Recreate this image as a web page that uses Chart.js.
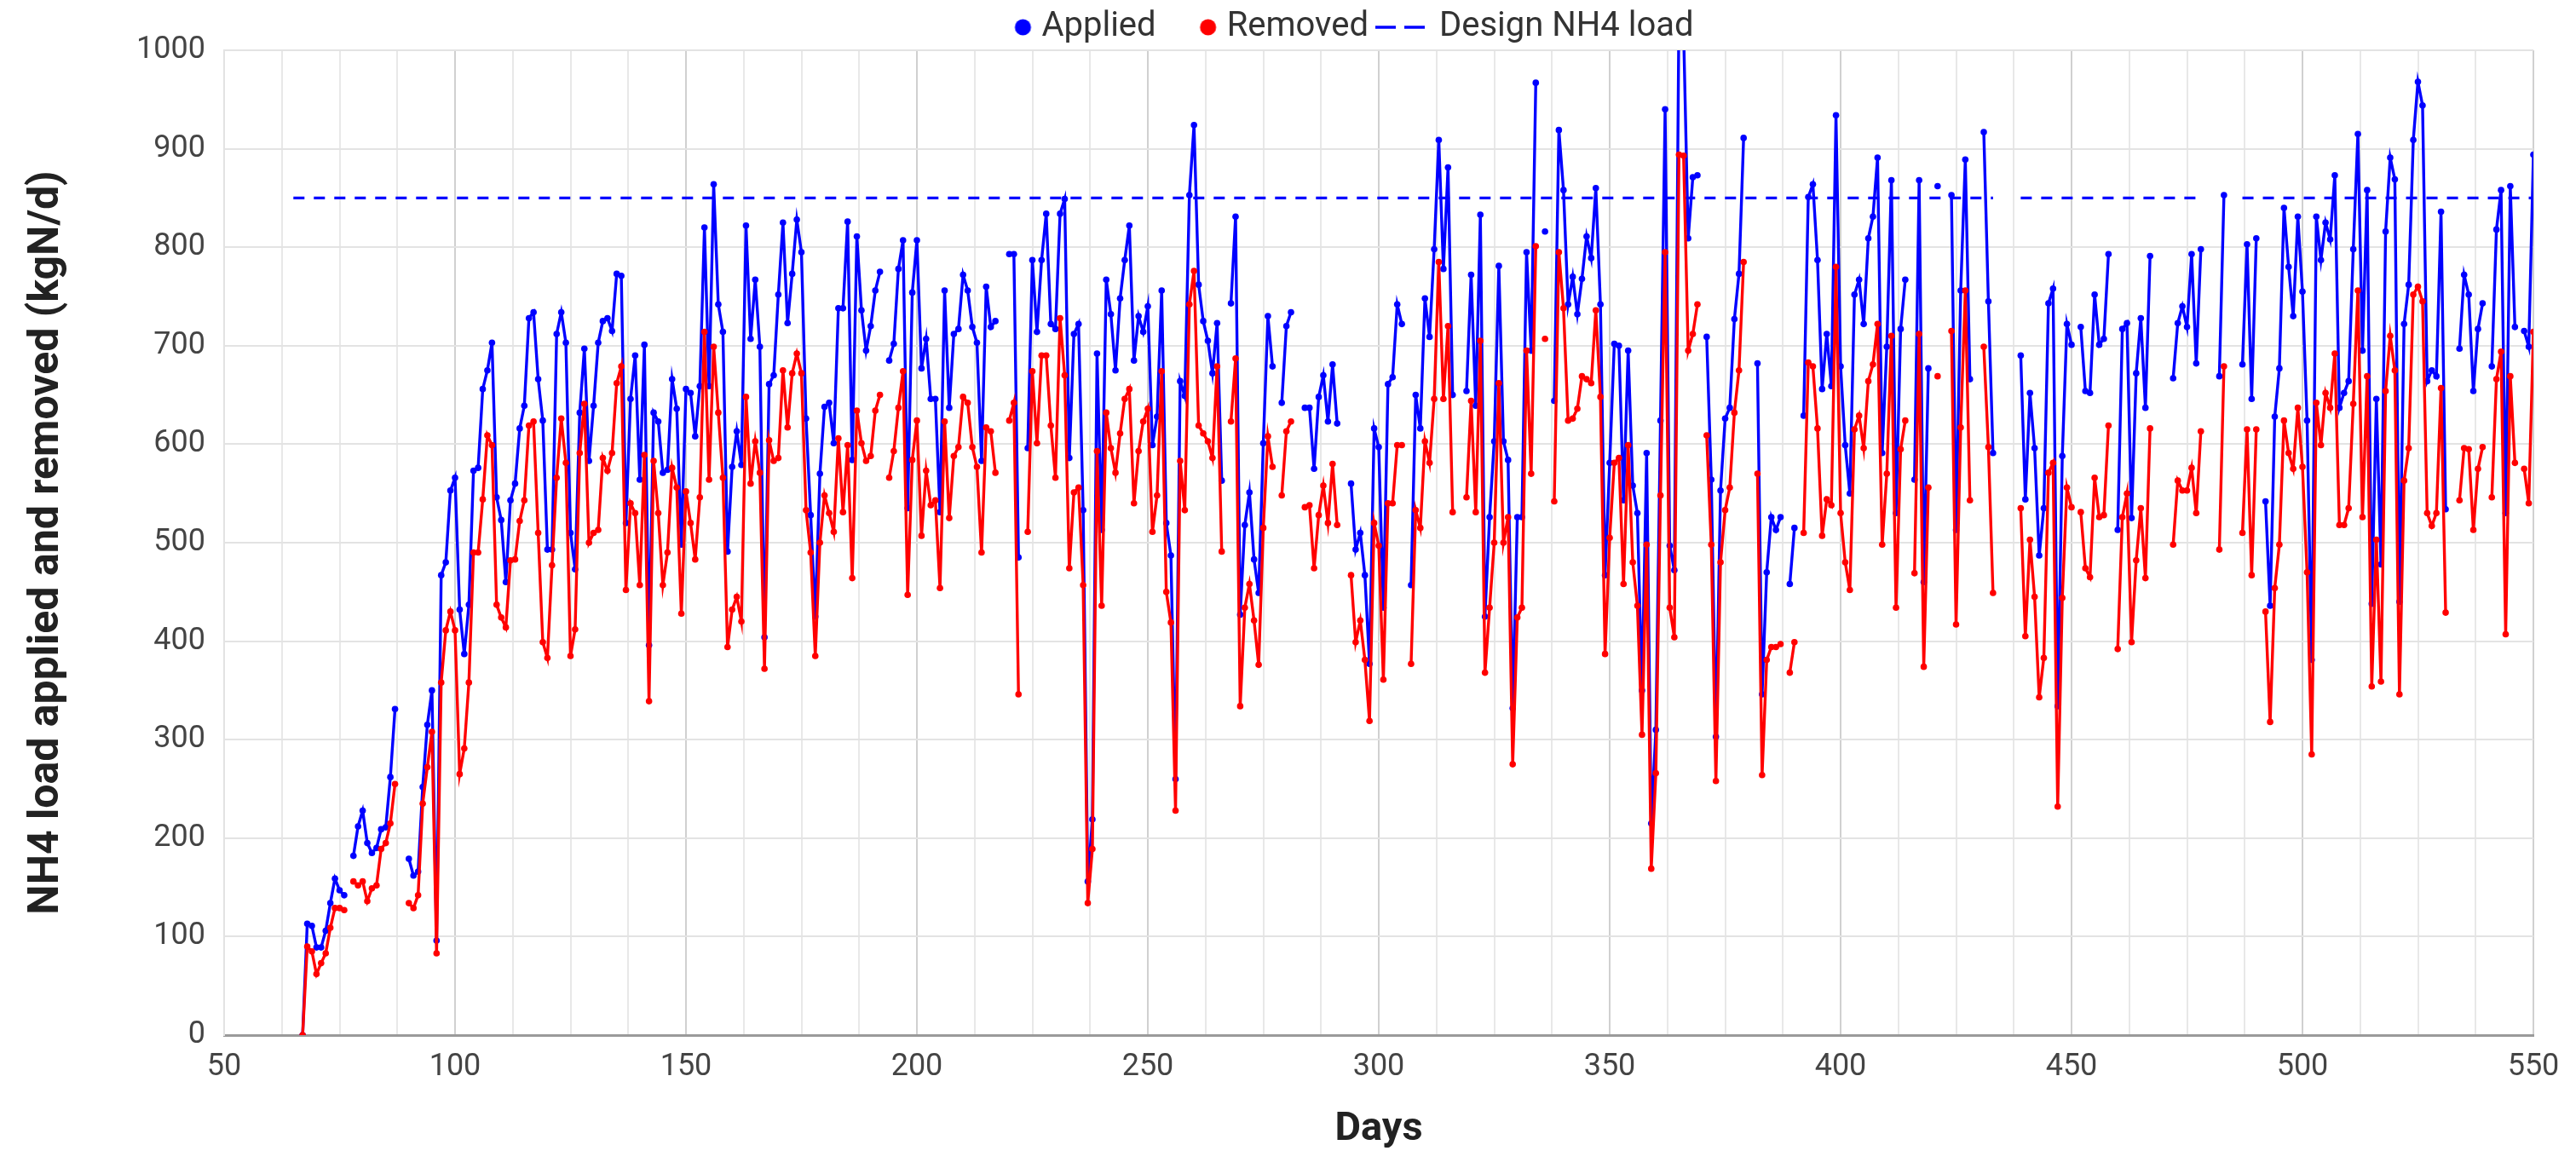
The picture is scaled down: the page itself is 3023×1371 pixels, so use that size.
<!DOCTYPE html>
<html>
<head>
<meta charset="utf-8">
<script src="https://cdn.jsdelivr.net/npm/chart.js@4.4.1/dist/chart.umd.min.js"></script>
<style>
  html, body { margin: 0; padding: 0; background: #ffffff; }
  #wrap { width: 3023px; height: 1371px; position: relative; }
</style>
</head>
<body>
<div id="wrap"><canvas id="c"></canvas></div>
<script>
// ---- DATA (daily, first day = 67, null = no measurement) ----
const firstDay = 67;
const applied = [
  0,113,111,89,89,106,134,159,147,142,
  null,182,212,228,195,185,190,209,211,262,
  331,null,null,179,162,166,252,315,350,96,
  467,480,553,566,432,387,437,573,576,656,
  675,703,546,523,460,543,560,616,639,728,
  734,666,624,493,493,712,734,703,510,473,
  632,697,583,639,703,725,728,715,773,771,
  520,646,690,564,701,396,632,623,571,574,
  666,636,498,656,652,608,659,820,659,864,
  742,714,491,577,613,579,822,707,767,699,
  404,661,670,752,825,723,773,828,795,626,
  528,425,570,638,642,601,738,738,826,584,
  811,736,695,720,756,775,null,685,702,778,
  807,535,754,807,677,707,646,646,531,756,
  637,712,717,772,756,719,703,583,760,719,
  725,null,null,793,793,485,null,596,787,714,
  787,834,722,717,834,849,586,712,722,533,
  156,219,692,513,767,732,675,748,787,822,
  685,730,714,740,599,628,756,520,487,260,
  664,649,853,924,762,725,705,672,723,563,
  null,743,831,427,518,551,483,449,601,730,
  679,null,642,720,734,null,null,637,637,575,
  648,670,623,681,621,null,null,560,493,510,
  467,377,616,597,434,661,668,742,722,null,
  457,650,616,748,709,798,909,778,881,650,
  null,null,654,772,639,833,425,526,603,781,
  603,584,332,526,526,795,695,967,null,816,
  null,644,919,858,742,770,732,768,811,789,
  860,742,467,581,702,700,543,695,558,530,
  350,591,215,310,624,940,497,472,1040,1020,
  809,871,873,null,709,564,303,553,626,637,
  727,773,911,null,null,682,346,470,526,513,
  526,null,458,515,null,629,851,864,787,656,
  712,659,934,679,599,550,752,767,722,809,
  831,891,591,699,868,530,717,767,null,564,
  868,460,677,null,862,null,null,853,513,756,
  889,666,null,null,917,745,591,null,null,null,
  null,null,690,544,652,596,487,535,743,758,
  334,588,722,701,null,719,654,652,752,701,
  707,793,null,513,717,723,525,672,728,637,
  791,null,null,null,null,667,723,740,719,793,
  682,798,null,null,null,669,853,null,null,null,
  681,803,646,809,null,542,436,628,677,840,
  780,730,831,755,624,381,831,787,825,808,
  873,637,652,664,798,915,695,858,438,646,
  478,816,891,869,440,722,762,909,968,944,
  664,675,669,836,534,null,null,697,772,752,
  654,717,743,null,679,818,858,530,862,719,
  null,715,699,894
];
const removed = [
  0,90,85,62,73,83,109,129,129,127,
  null,156,152,156,136,149,152,189,195,215,
  255,null,null,134,129,142,235,272,308,83,
  358,411,430,411,265,291,358,490,490,544,
  609,599,437,424,414,482,483,522,543,619,
  623,510,399,383,477,566,626,581,385,412,
  591,641,500,510,513,586,573,591,662,679,
  452,540,530,457,589,339,583,530,457,490,
  576,556,428,552,520,483,546,714,564,699,
  632,566,394,432,445,420,648,560,603,571,
  372,604,583,586,675,617,672,692,672,533,
  490,385,500,548,530,511,606,531,599,464,
  634,601,583,588,634,650,null,566,593,637,
  674,447,584,624,507,573,538,543,454,623,
  525,588,597,648,642,597,577,490,617,613,
  571,null,null,624,642,346,null,511,674,601,
  690,690,619,566,728,670,474,551,556,457,
  134,189,593,436,632,596,571,611,646,656,
  540,593,623,636,511,548,674,450,419,228,
  583,533,742,776,619,611,603,586,679,491,
  null,623,687,334,434,458,421,376,515,608,
  577,null,548,613,623,null,null,536,538,474,
  528,558,520,580,518,null,null,467,399,421,
  381,319,520,497,361,540,540,599,599,null,
  377,533,515,603,581,646,785,646,720,531,
  null,null,546,644,531,705,368,434,500,662,
  500,526,275,424,434,695,570,801,null,707,
  null,542,795,738,624,626,636,669,666,662,
  736,648,387,505,581,586,458,599,480,436,
  305,498,169,266,548,795,434,404,894,893,
  695,712,742,null,609,498,258,480,533,556,
  632,675,785,null,null,570,264,381,394,394,
  397,null,368,399,null,510,683,679,616,507,
  544,538,780,530,480,452,615,629,596,664,
  681,722,498,570,710,434,595,624,null,469,
  712,374,556,null,669,null,null,715,417,617,
  756,543,null,null,699,597,449,null,null,null,
  null,null,535,405,503,445,343,383,571,581,
  232,444,556,536,null,531,474,465,566,526,
  528,619,null,392,526,550,399,482,535,464,
  616,null,null,null,null,498,563,553,553,576,
  530,613,null,null,null,493,679,null,null,null,
  510,615,467,615,null,430,318,454,498,624,
  591,575,637,577,470,285,642,599,652,637,
  692,518,518,535,641,756,526,669,354,503,
  359,654,710,675,346,563,596,752,760,745,
  530,517,530,657,429,null,null,543,596,595,
  513,575,597,null,546,666,694,407,669,581,
  null,575,540,714
];
const designDays = [65, 433, 433, 439, 478, 478, 487, 550];
const designLoad = [850, 850, null, 850, 850, null, 850, 850];
const xTickLabels = [50, 100, 150, 200, 250, 300, 350, 400, 450, 500, 550];
const yTickLabels = [0, 100, 200, 300, 400, 500, 600, 700, 800, 900, 1000];
const seriesNames = ['Applied', 'Removed', 'Design NH4 load'];
// ---------------------------------------------------------------

const BLUE = '#0000ff';
const RED = '#ff0000';
const FONT = 'Roboto, "Noto Sans", Arial, sans-serif';
const BOXW = 58;

function circleIcon(color) {
  const c = document.createElement('canvas');
  c.width = BOXW + 24; c.height = 24;
  const g = c.getContext('2d');
  g.fillStyle = color;
  g.beginPath(); g.arc(BOXW + 10, 12, 9.5, 0, Math.PI * 2); g.fill();
  return c;
}
function dashIcon(color) {
  const c = document.createElement('canvas');
  c.width = BOXW + 24; c.height = 8;
  const g = c.getContext('2d');
  g.strokeStyle = color; g.lineWidth = 3.5; g.setLineDash([24, 10]);
  g.beginPath(); g.moveTo(15, 4); g.lineTo(73, 4); g.stroke();
  return c;
}
const legendIcons = [circleIcon(BLUE), circleIcon(RED), dashIcon(BLUE)];

const legendShift = {
  id: 'legendShift',
  afterLayout(chart) {
    const l = chart.legend;
    if (l) { l.left -= 52; l.right -= 52; l.top += 3; l.bottom += 3; }
  }
};

const toPts = (arr) => arr.map((v, i) => ({ x: firstDay + i, y: v }));
const designPts = designDays.map((d, i) => ({ x: d, y: designLoad[i] }));

new Chart(document.getElementById('c'), {
  type: 'line',
  plugins: [legendShift],
  data: {
    datasets: [
      { label: seriesNames[0], data: toPts(applied), borderColor: BLUE, backgroundColor: BLUE,
        borderWidth: 3.4, pointRadius: 3.8, pointBorderWidth: 0, pointHoverRadius: 3.8, order: 1, tension: 0 },
      { label: seriesNames[1], data: toPts(removed), borderColor: RED, backgroundColor: RED,
        borderWidth: 3.4, pointRadius: 3.8, pointBorderWidth: 0, pointHoverRadius: 3.8, order: 0, tension: 0 },
      { label: seriesNames[2], data: designPts, borderColor: BLUE, backgroundColor: BLUE,
        borderWidth: 3.4, borderDash: [13, 11], pointRadius: 0, order: 2, tension: 0 }
    ]
  },
  options: {
    responsive: true,
    maintainAspectRatio: false,
    devicePixelRatio: 1,
    animation: false,
    events: [],
    layout: { padding: { top: 4, right: 50, bottom: 0, left: 0 } },
    plugins: {
      tooltip: { enabled: false },
      legend: {
        display: true,
        position: 'top',
        align: 'center',
        fullSize: false,
        labels: {
          usePointStyle: true,
          pointStyleWidth: BOXW,
          padding: 5,
          color: '#333333',
          font: { family: FONT, size: 40 },
          sort: (a, b) => a.datasetIndex - b.datasetIndex,
          generateLabels: (chart) => {
            const items = Chart.defaults.plugins.legend.labels.generateLabels(chart);
            items.forEach(it => { it.pointStyle = legendIcons[it.datasetIndex]; });
            return items;
          }
        }
      }
    },
    scales: {
      x: {
        type: 'linear',
        min: xTickLabels[0],
        max: xTickLabels[xTickLabels.length - 1],
        afterFit: (s) => { s.height = 156; },
        ticks: {
          stepSize: 12.5,
          autoSkip: false,
          maxRotation: 0,
          padding: 16,
          color: '#444444',
          font: { family: FONT, size: 36 },
          callback: (v) => xTickLabels.includes(v) ? String(v) : ''
        },
        grid: {
          drawTicks: false,
          lineWidth: 2,
          color: (ctx) => (ctx.tick && xTickLabels.includes(ctx.tick.value)) ? '#d0d0d0' : '#e8e8e8'
        },
        border: { display: true, color: '#9a9a9a', width: 3 },
        title: {
          display: true,
          text: 'Days',
          color: '#222222',
          font: { family: FONT, size: 47, weight: 'bold' },
          padding: { top: 0, bottom: 17 }
        }
      },
      y: {
        min: yTickLabels[0],
        max: yTickLabels[yTickLabels.length - 1],
        afterFit: (s) => { s.width = 263; },
        ticks: {
          stepSize: 100,
          padding: 22,
          color: '#444444',
          font: { family: FONT, size: 36 },
          callback: (v) => yTickLabels.includes(v) ? String(v) : ''
        },
        grid: { drawTicks: false, lineWidth: 2, color: '#e3e3e3' },
        border: { display: true, color: '#e3e3e3', width: 2 },
        title: {
          display: true,
          text: 'NH4 load applied and removed (kgN/d)',
          color: '#222222',
          font: { family: FONT, size: 50, weight: 'bold' },
          padding: { top: 25, bottom: 0 }
        }
      }
    }
  }
});
</script>
</body>
</html>
